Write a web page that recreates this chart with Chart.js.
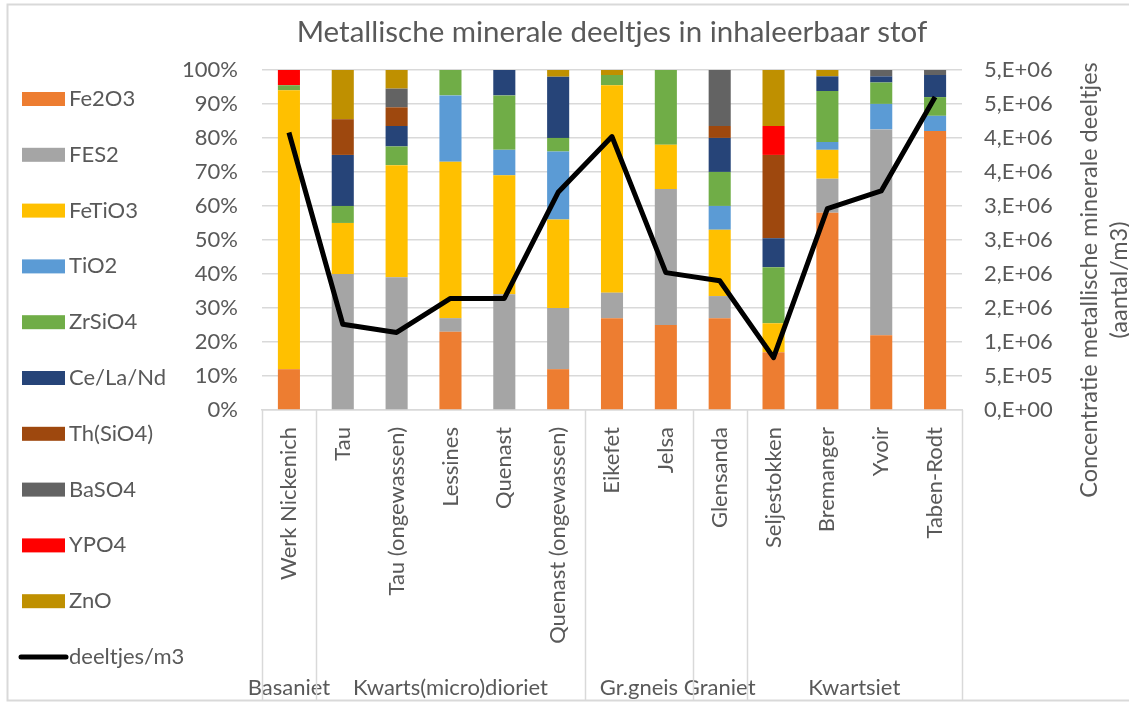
<!DOCTYPE html>
<html>
<head>
<meta charset="utf-8">
<script src="https://cdn.jsdelivr.net/npm/chart.js@4.4.1/dist/chart.umd.min.js"></script>
<style>
  body { margin: 0; background: #fff; }
  #wrap { width: 1129px; height: 702px; position: relative; }
</style>
</head>
<body>
<div id="wrap"><canvas id="mineralChart"></canvas></div>
<script>
// Categories (sample locations) and their rock-type groups
const locations = ['Werk Nickenich', 'Tau', 'Tau (ongewassen)', 'Lessines', 'Quenast', 'Quenast (ongewassen)',
    'Eikefet', 'Jelsa', 'Glensanda', 'Seljestokken', 'Bremanger', 'Yvoir', 'Taben-Rodt'];
const groupNames = ['Basaniet', 'Kwarts(micro)dioriet', 'Gr.gneis', 'Graniet', 'Kwartsiet'];
const groupSizes = [1, 5, 2, 1, 4];

// Share of each mineral (%)
const fe2o3   = [12, 0, 0, 23, 0, 12, 27, 25, 27, 17, 58, 22, 82];
const fes2    = [0, 40, 39, 4, 34, 18, 7.5, 40, 6.5, 0, 10, 60.5, 0];
const fetio3  = [82, 15, 33, 46, 35, 26, 61, 13, 19.5, 8.5, 8.5, 0, 0];
const tio2    = [0, 0, 0, 19.5, 7.5, 20, 0, 0, 7, 0, 2.3, 7.5, 4.5];
const zrsio4  = [1.5, 5, 5.5, 7.5, 16, 4, 3, 22, 10, 16.5, 15, 6.3, 5.5];
const ceLaNd  = [0, 15, 6, 0, 7.5, 18, 0, 0, 10, 8.5, 4.3, 1.8, 6.5];
const thSiO4  = [0, 10.5, 5.5, 0, 0, 0, 0, 0, 3.5, 24.5, 0, 0, 0];
const baso4   = [0, 0, 5.5, 0, 0, 0, 0, 0, 16.5, 0, 0, 1.9, 1.5];
const ypo4    = [4.5, 0, 0, 0, 0, 0, 0, 0, 0, 8.5, 0, 0, 0];
const zno     = [0, 14.5, 5.5, 0, 0, 2, 1.5, 0, 0, 16.5, 1.9, 0, 0];

// Particle concentration (aantal/m3), right axis
const deeltjes = [4.08e6, 1.26e6, 1.14e6, 1.64e6, 1.64e6, 3.2e6, 4.02e6, 2.02e6, 1.9e6, 0.77e6, 2.96e6, 3.22e6, 4.6e6];

const textColor = '#595959';
const gridColor = '#d9d9d9';
const fontFamily = 'Lato, "Open Sans", sans-serif';

function barSet(label, data, color) {
    return {
        type: 'bar', label: label, data: data, backgroundColor: color,
        yAxisID: 'y', order: 1, stack: 'minerals',
        categoryPercentage: 1, barPercentage: 0.41
    };
}

// Excel-style "0,E+00" tick format
function sciLabel(value) {
    if (value === 0) return '0,E+00';
    const exp = Math.floor(Math.log10(value) + 1e-9);
    const mant = Math.round(value / Math.pow(10, exp));
    return mant + ',E+' + String(exp).padStart(2, '0');
}

// Draws legend, group labels, separators, right axis title, outer border
const extrasPlugin = {
    id: 'extras',
    afterDraw(chart) {
        const ctx = chart.ctx;
        const x = chart.scales.x;
        const area = chart.chartArea;
        ctx.save();

        // outer border
        ctx.strokeStyle = gridColor;
        ctx.lineWidth = 2;
        ctx.strokeRect(7.5, 4.5, 1200, 696);

        // group separators and labels
        const step = x.width / locations.length;
        ctx.strokeStyle = gridColor;
        ctx.lineWidth = 1.5;
        ctx.fillStyle = textColor;
        ctx.font = '22px ' + fontFamily;
        ctx.textAlign = 'center';
        ctx.textBaseline = 'middle';
        let idx = 0;
        const edges = [x.getPixelForValue(0) - step / 2];
        groupSizes.forEach((n, g) => {
            const left = x.getPixelForValue(idx) - step / 2;
            const right = x.getPixelForValue(idx + n - 1) + step / 2;
            edges.push(right);
            ctx.fillText(groupNames[g], (left + right) / 2, 688);
            idx += n;
        });
        edges.forEach(px => {
            ctx.beginPath();
            ctx.moveTo(Math.round(px) + 0.5, area.bottom);
            ctx.lineTo(Math.round(px) + 0.5, 700);
            ctx.stroke();
        });

        // legend
        ctx.textAlign = 'left';
        chart.data.datasets.forEach((ds, i) => {
            const cy = 99 + i * 55.8;
            if (ds.type === 'line') {
                ctx.strokeStyle = ds.borderColor;
                ctx.lineWidth = 5;
                ctx.lineCap = 'round';
                ctx.beginPath();
                ctx.moveTo(21, cy);
                ctx.lineTo(66, cy);
                ctx.stroke();
            } else {
                ctx.fillStyle = ds.backgroundColor;
                ctx.fillRect(22, cy - 7, 43, 14);
            }
            ctx.fillStyle = textColor;
            ctx.fillText(ds.label, 69, cy);
        });

        // right axis title, rotated
        ctx.font = '23.5px ' + fontFamily;
        ctx.translate(1104, 280);
        ctx.rotate(-Math.PI / 2);
        ctx.textAlign = 'center';
        ctx.fillStyle = textColor;
        ctx.fillText('Concentratie metallische minerale deeltjes', 0, -15);
        ctx.fillText('(aantal/m3)', 0, 15);
        ctx.restore();
    }
};

const ctx = document.getElementById('mineralChart').getContext('2d');
new Chart(ctx, {
    data: {
        labels: locations,
        datasets: [
            barSet('Fe2O3', fe2o3, '#ED7D31'),
            barSet('FES2', fes2, '#A5A5A5'),
            barSet('FeTiO3', fetio3, '#FFC000'),
            barSet('TiO2', tio2, '#5B9BD5'),
            barSet('ZrSiO4', zrsio4, '#70AD47'),
            barSet('Ce/La/Nd', ceLaNd, '#264478'),
            barSet('Th(SiO4)', thSiO4, '#9E480E'),
            barSet('BaSO4', baso4, '#636363'),
            barSet('YPO4', ypo4, '#FF0000'),
            barSet('ZnO', zno, '#BF9000'),
            {
                type: 'line', label: 'deeltjes/m3', data: deeltjes,
                borderColor: '#000000', backgroundColor: '#000000',
                borderWidth: 5, pointRadius: 0, tension: 0,
                borderJoinStyle: 'round', yAxisID: 'y1', order: 0
            }
        ]
    },
    options: {
        responsive: true,
        maintainAspectRatio: false,
        animation: false,
        layout: { padding: 0 },
        plugins: {
            legend: { display: false },
            tooltip: { enabled: false },
            title: {
                display: true,
                fullSize: false,
                text: 'Metallische minerale deeltjes in inhaleerbaar stof',
                color: textColor,
                font: { family: fontFamily, size: 29.5, weight: 'normal' },
                padding: { top: 15, bottom: 19.5 }
            }
        },
        scales: {
            x: {
                stacked: true,
                grid: { display: false, drawTicks: false },
                border: { display: true, color: gridColor, width: 1.5 },
                ticks: {
                    autoSkip: false, minRotation: 90, maxRotation: 90, padding: 17,
                    color: textColor, font: { family: fontFamily, size: 22 }
                },
                afterFit: (scale) => { scale.height = 292; }
            },
            y: {
                stacked: true,
                position: 'left',
                min: 0, max: 100,
                grid: { color: gridColor, lineWidth: 1.5, drawTicks: false },
                border: { display: false },
                ticks: {
                    stepSize: 10, padding: 24,
                    color: textColor, font: { family: fontFamily, size: 22 },
                    callback: (v) => v + '%'
                },
                afterFit: (scale) => { scale.width = 262; }
            },
            y1: {
                position: 'right',
                min: 0, max: 5e6,
                grid: { drawOnChartArea: false, drawTicks: false },
                border: { display: false },
                ticks: {
                    stepSize: 5e5, padding: 22,
                    color: textColor, font: { family: fontFamily, size: 22 },
                    callback: (v) => sciLabel(v)
                },
                afterFit: (scale) => { scale.width = 167; }
            }
        }
    },
    plugins: [extrasPlugin]
});
</script>
</body>
</html>
